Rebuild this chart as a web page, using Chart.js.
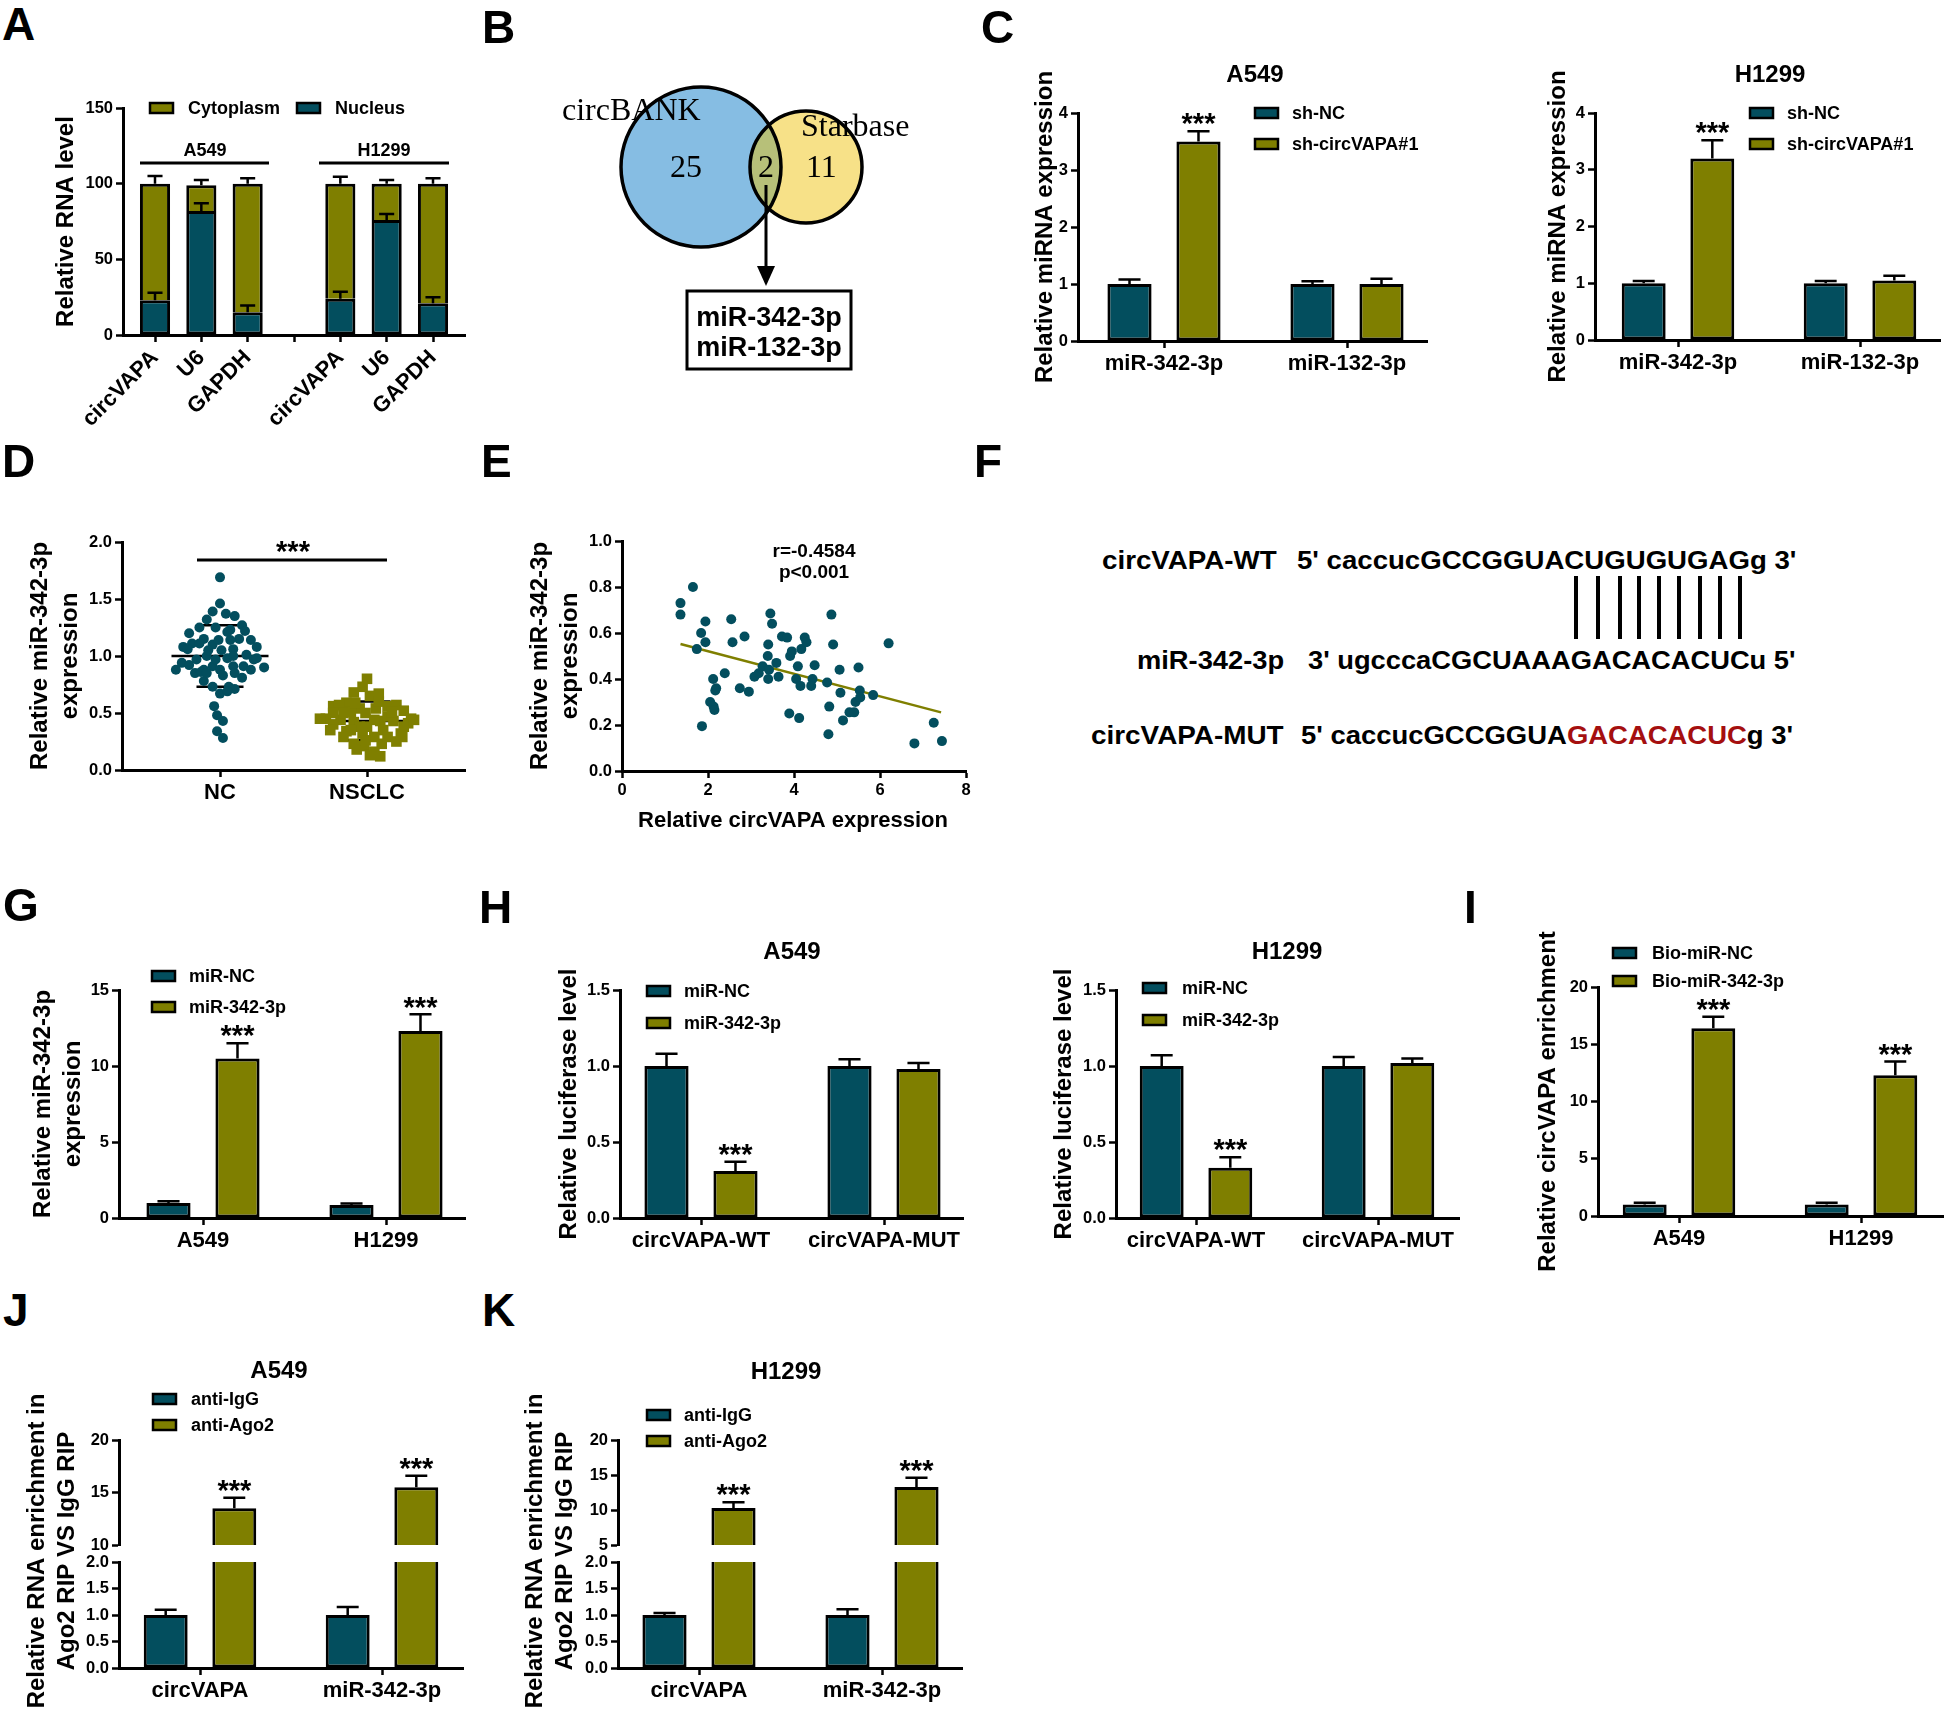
<!DOCTYPE html>
<html>
<head>
<meta charset="utf-8">
<script src="https://cdn.jsdelivr.net/npm/chart.js@4.4.0/dist/chart.umd.min.js"></script>
<style>
  body { margin: 0; background: #fff; }
  #fig { position: relative; width: 1944px; height: 1713px; overflow: hidden; font-family: "Liberation Sans", Arial, sans-serif; }
  canvas { position: absolute; }
  .lab { position: absolute; font-weight: bold; font-size: 46px; line-height: 46px; }
  .seq { position: absolute; font-weight: bold; font-size: 26px; line-height: 26px; white-space: pre; transform-origin: 0 0; }
  .pair { position: absolute; width: 4px; background: #000; }
</style>
</head>
<body>
<div id="fig"></div>
<script>
// ---- A: subcellular fractionation ----
const aLabels = ['circVAPA', 'U6', 'GAPDH', '', 'circVAPA', 'U6', 'GAPDH'];
const aNucleus = [23, 82, 15, null, 24, 76, 21];
const aNucleusErr = [28, 87, 19.5, null, 28.5, 80, 25];
const aCytoplasm = [77, 17, 85, null, 76, 24, 79];
const aCytoplasmErr = [105, 102.5, 103.5, null, 104.5, 102.5, 103.5];

// ---- B: venn ----
const vennSets = ['circBANK', 'Starbase'];
const vennCounts = [25, 2, 11];
const vennShared = ['miR-342-3p', 'miR-132-3p'];

// ---- C: miRNA expression after knockdown ----
const cLabels = ['miR-342-3p', 'miR-132-3p'];
const cA549NC = [1.0, 1.0], cA549NCErr = [1.08, 1.05];
const cA549Sh = [3.5, 1.0], cA549ShErr = [3.68, 1.09];
const cH1299NC = [1.0, 1.0], cH1299NCErr = [1.04, 1.04];
const cH1299Sh = [3.2, 1.05], cH1299ShErr = [3.52, 1.13];

// ---- D: NC vs NSCLC ----
const dLabels = ['NC', 'NSCLC'];
const ncX = [0, 0, -0.05, 0.04, 0.10, -0.09, -0.14, -0.03, 0.07, 0.15, 0.17, -0.21, 0.05, -0.11, 0.13, 0.21, -0.19, -0.05, -0.25, 0.25, 0.09, -0.22, 0.01, -0.09, 0.05, 0.18, 0.23, -0.26, -0.21, -0.05, 0.09, 0.16, 0.30, -0.30, -0.11, 0, -0.17, -0.13, 0.02, 0.15, -0.11, -0.05, 0.06, 0.10, 0, 0.05, -0.04, -0.02, 0.02, -0.02, 0.02, -0.08, -0.16, -0.01, 0.09, 0.25, -0.09, 0.10, 0.07, -0.14, -0.03, 0.21];
const ncY = [1.69, 1.46, 1.39, 1.37, 1.35, 1.32, 1.25, 1.25, 1.23, 1.27, 1.22, 1.20, 1.21, 1.15, 1.15, 1.14, 1.11, 1.10, 1.08, 1.08, 1.06, 1.06, 1.05, 1.00, 0.98, 1.01, 0.97, 0.94, 0.92, 0.91, 0.91, 0.91, 0.90, 0.88, 0.88, 0.88, 0.85, 0.86, 0.83, 0.81, 0.78, 0.73, 0.73, 0.71, 0.67, 0.69, 0.56, 0.48, 0.43, 0.34, 0.28, 1.05, 0.97, 1.14, 1.00, 0.98, 0.85, 0.85, 1.14, 1.11, 0.97, 0.88];
const nsX = [1.00, 0.97, 0.91, 1.08, 1.02, 0.86, 0.77, 0.81, 1.20, 1.14, 1.06, 0.95, 1.25, 0.89, 0.99, 0.72, 1.30, 0.82, 1.09, 1.18, 0.91, 0.77, 1.25, 1.00, 0.75, 1.11, 0.86, 0.97, 1.24, 0.84, 1.05, 1.20, 0.91, 1.10, 0.98, 0.93, 1.05, 1.02, 1.09, 1.23, 1.14, 0.95, 0.84, 1.17, 1.05, 0.89, 1.14, 0.77, 1.28, 0.92, 1.08, 0.68, 1.32, 0.99];
const nsY = [0.80, 0.73, 0.68, 0.67, 0.65, 0.59, 0.56, 0.57, 0.57, 0.56, 0.54, 0.54, 0.52, 0.51, 0.50, 0.45, 0.45, 0.44, 0.43, 0.43, 0.42, 0.40, 0.38, 0.38, 0.35, 0.35, 0.34, 0.32, 0.29, 0.29, 0.29, 0.25, 0.23, 0.23, 0.21, 0.18, 0.16, 0.13, 0.12, 0.32, 0.47, 0.38, 0.50, 0.51, 0.44, 0.35, 0.29, 0.50, 0.41, 0.59, 0.60, 0.45, 0.44, 0.26];
const dMean = [1.0, 0.43], dSdHi = [1.27, 0.60], dSdLo = [0.73, 0.26];

// ---- E: correlation ----
const eX = [1.36, 1.36, 1.65, 1.84, 1.94, 1.94, 1.74, 2.54, 2.57, 2.85, 2.12, 2.19, 2.17, 2.39, 2.05, 2.13, 2.15, 1.86, 2.74, 2.95, 3.08, 3.18, 3.27, 3.45, 3.49, 3.40, 3.39, 3.42, 3.40, 3.59, 3.64, 3.72, 3.84, 3.91, 3.95, 4.09, 4.05, 4.15, 4.17, 4.25, 4.29, 4.48, 4.43, 4.40, 4.77, 4.87, 4.91, 5.06, 5.08, 4.82, 4.80, 5.14, 5.29, 5.40, 5.43, 5.50, 5.53, 5.54, 5.84, 6.20, 3.89, 4.12, 6.80, 7.25, 7.44];
const eY = [0.73, 0.68, 0.80, 0.60, 0.65, 0.56, 0.53, 0.66, 0.56, 0.585, 0.40, 0.36, 0.35, 0.425, 0.30, 0.28, 0.265, 0.195, 0.36, 0.345, 0.41, 0.425, 0.455, 0.685, 0.64, 0.55, 0.50, 0.44, 0.40, 0.47, 0.41, 0.585, 0.58, 0.50, 0.52, 0.455, 0.40, 0.37, 0.53, 0.58, 0.56, 0.46, 0.40, 0.37, 0.385, 0.68, 0.55, 0.44, 0.34, 0.28, 0.16, 0.22, 0.255, 0.255, 0.30, 0.45, 0.35, 0.32, 0.33, 0.555, 0.25, 0.23, 0.12, 0.21, 0.13];
const eFitX = [1.36, 7.42], eFitY = [0.552, 0.255];
const eStats = ['r=-0.4584', 'p<0.001'];

// ---- F: binding sites ----
const fRows = [
  ['circVAPA-WT', "5' caccucGCCGGUACUGUGUGAGg 3'"],
  ['miR-342-3p', "3' ugcccaCGCUAAAGACACACUCu 5'"],
  ['circVAPA-MUT', "5' caccucGCCGGUA", 'GACACACUC', "g 3'"]
];

// ---- G ----
const gLabels = ['A549', 'H1299'];
const gNC = [0.98, 0.85], gNCErr = [1.1, 0.95];
const gMiR = [10.5, 12.3], gMiRErr = [11.5, 13.4];

// ---- H: luciferase ----
const hLabels = ['circVAPA-WT', 'circVAPA-MUT'];
const hA549NC = [1.0, 1.0], hA549NCErr = [1.08, 1.045];
const hA549MiR = [0.31, 0.98], hA549MiRErr = [0.37, 1.02];
const hH1299NC = [1.0, 1.0], hH1299NCErr = [1.07, 1.06];
const hH1299MiR = [0.33, 1.02], hH1299MiRErr = [0.40, 1.05];

// ---- I: pull-down ----
const iLabels = ['A549', 'H1299'];
const iNC = [1.0, 1.0], iNCErr = [1.15, 1.15];
const iBio = [16.4, 12.3], iBioErr = [17.4, 13.5];

// ---- J, K: RIP ----
const ripLabels = ['circVAPA', 'miR-342-3p'];
const jIgG = [1.0, 1.0], jIgGErr = [1.1, 1.15];
const jAgo = [13.5, 15.5], jAgoErr = [14.5, 16.6];
const kIgG = [1.0, 1.0], kIgGErr = [1.04, 1.11];
const kAgo = [10.3, 13.3], kAgoErr = [11.1, 14.6];

const TEAL = '#034e5e', OLIVE = '#7f7f00';
const FF = '"Liberation Sans", Arial, sans-serif';
Chart.defaults.font.family = FF;
Chart.defaults.color = '#000';

const fig = document.getElementById('fig');

function addCanvas(b) {
  const c = document.createElement('canvas');
  c.width = b.w; c.height = b.h;
  c.style.left = b.x + 'px'; c.style.top = b.y + 'px';
  fig.appendChild(c);
  return c;
}

function drawErrors(chart, errs) {
  const ctx = chart.ctx, ys = chart.scales.y, area = chart.chartArea;
  ctx.save();
  ctx.strokeStyle = '#000'; ctx.lineWidth = 2.5;
  errs.forEach((arr, di) => {
    if (!arr) return;
    const meta = chart.getDatasetMeta(di);
    meta.data.forEach((el, i) => {
      const e = arr[i];
      if (e == null || e > ys.max || e < ys.min) return;
      if (!(el.y >= area.top - 1 && el.y <= area.bottom)) return;
      const py = ys.getPixelForValue(e);
      const cap = el.width * 0.25;
      ctx.beginPath();
      ctx.moveTo(el.x, el.y); ctx.lineTo(el.x, py);
      ctx.moveTo(el.x - cap, py); ctx.lineTo(el.x + cap, py);
      ctx.stroke();
    });
  });
  ctx.restore();
}

// asterisks sit a few px above the error cap
function drawStars(chart, o) {
  const ctx = chart.ctx, ys = chart.scales.y;
  ctx.save();
  ctx.font = 'bold 29px ' + FF; ctx.textAlign = 'center'; ctx.textBaseline = 'alphabetic'; ctx.fillStyle = '#000';
  o.stars.forEach(s => {
    const el = chart.getDatasetMeta(s.ds).data[s.i];
    const py = ys.getPixelForValue(o.errs[s.ds][s.i]);
    ctx.fillText('***', el.x, py - 10 + 0.42 * 29);
  });
  ctx.restore();
}

function drawLegend(ctx, items) {
  ctx.font = 'bold 18px ' + FF; ctx.textBaseline = 'middle'; ctx.textAlign = 'left';
  items.forEach(it => {
    ctx.fillStyle = it.color; ctx.fillRect(it.bx, it.y - 5, 23, 10);
    ctx.lineWidth = 2.5; ctx.strokeStyle = '#000'; ctx.strokeRect(it.bx, it.y - 5, 23, 10);
    ctx.fillStyle = '#000'; ctx.fillText(it.text, it.tx, it.y + 1);
  });
}

function drawYTitle(ctx, t, cy) {
  ctx.font = 'bold 24px ' + FF; ctx.textAlign = 'center'; ctx.textBaseline = 'middle'; ctx.fillStyle = '#000';
  t.lines.forEach((line, i) => {
    ctx.save(); ctx.translate(t.xs[i], cy); ctx.rotate(-Math.PI / 2);
    ctx.fillText(line, 0, 0); ctx.restore();
  });
}

function decor(o) {
  return {
    id: 'decor',
    beforeDatasetsDraw(chart) {
      if (o.under) { chart.ctx.save(); o.under(chart.ctx, chart); chart.ctx.restore(); }
    },
    afterDatasetsDraw(chart) {
      const ctx = chart.ctx;
      if (o.errs) drawErrors(chart, o.errs);
      if (o.stars) drawStars(chart, o);
      ctx.save();
      ctx.translate(-o.box.x, -o.box.y);
      ctx.fillStyle = '#000'; ctx.strokeStyle = '#000';
      if (o.legend) drawLegend(ctx, o.legend);
      if (o.title) {
        ctx.font = 'bold 24px ' + FF; ctx.textAlign = 'center'; ctx.textBaseline = 'middle'; ctx.fillStyle = '#000';
        ctx.fillText(o.title.text, o.title.x, o.title.y);
      }
      if (o.yTitle) drawYTitle(ctx, o.yTitle, o.yTitle.cy || (o.plot.t + o.plot.b) / 2);
      if (o.extra) o.extra(ctx, chart);
      ctx.restore();
    }
  };
}

function xAxisOpt(a) {
  return {
    type: 'linear', min: a.min, max: a.max, offset: false, stacked: !!a.stacked, display: a.show !== false,
    afterBuildTicks: s => { s.ticks = a.ticks.map(v => ({ value: v })); },
    afterFit: s => { s.height = a.h; },
    ticks: {
      autoSkip: false, maxRotation: a.rot || 0, minRotation: a.rot || 0, padding: 3, color: '#000',
      font: { size: a.fs, weight: 'bold' },
      callback: (v, i) => a.labels ? a.labels[i] : String(v)
    },
    grid: { drawOnChartArea: false, offset: false, drawTicks: true, tickLength: 7, tickColor: '#000', tickWidth: 2.5 },
    border: { display: true, color: '#000', width: 3 }
  };
}

function yAxisOpt(a) {
  return {
    type: 'linear', min: a.min, max: a.max, stacked: !!a.stacked,
    afterFit: s => { s.width = a.w; },
    ticks: { stepSize: a.step, font: { size: 16.5, weight: 'bold' }, color: '#000', padding: 3,
      callback: a.fmt || (v => String(v)) },
    grid: { drawOnChartArea: false, drawTicks: true, tickLength: 7, tickColor: '#000', tickWidth: 2.5 },
    border: { display: true, color: '#000', width: 3 }
  };
}

function legendItems(o) {
  return o.series.map((s, i) => ({ bx: o.leg.bx, tx: o.leg.tx, y: o.leg.ys[i], text: s.label, color: s.color }));
}

function barPanel(o) {
  const b = o.box, p = o.plot;
  const c = addCanvas(b);
  const n = o.labels.length;
  const sp = (o.tx[1] - o.tx[0]) / (n - 1);
  const showX = o.showX !== false;
  const datasets = o.series.map(s => ({
    label: s.label,
    data: s.values.map((v, i) => ({ x: i, y: v })),
    backgroundColor: s.color, borderColor: '#000', borderWidth: 3,
    borderSkipped: s.skip || false,
    categoryPercentage: o.stacked ? 1 : 0.754,
    barPercentage: o.stacked ? 0.65 : 0.64,
    clip: o.clip ? 0 : false
  }));
  if (o.leg && !o.legend) o.legend = legendItems(o);
  return new Chart(c, {
    type: 'bar',
    data: { datasets },
    options: {
      responsive: false, animation: false, events: [],
      layout: { padding: { left: 0, top: p.t - b.y, right: b.x + b.w - p.r, bottom: showX ? 0 : b.y + b.h - p.b } },
      plugins: { legend: { display: false }, tooltip: { enabled: false } },
      scales: {
        x: xAxisOpt({
          min: (p.l - o.tx[0]) / sp, max: (p.r - o.tx[0]) / sp, ticks: o.labels.map((_, i) => i),
          labels: o.labels, fs: 22, h: showX ? b.y + b.h - p.b : 0, rot: o.rot, show: showX, stacked: o.stacked
        }),
        y: yAxisOpt({ min: o.ymin, max: o.ymax, step: o.ystep, fmt: o.yfmt, w: p.l - b.x, stacked: o.stacked })
      }
    },
    plugins: [decor(o)]
  });
}

const fix1 = v => v.toFixed(1);

// ---------- A ----------
barPanel({
  box: { x: 0, y: 50, w: 480, h: 390 }, plot: { l: 123, t: 108, r: 465, b: 335 }, tx: [155, 433],
  labels: aLabels, stacked: true, rot: 45, ymin: 0, ymax: 150, ystep: 50,
  series: [
    { label: 'Nucleus', values: aNucleus, color: TEAL },
    { label: 'Cytoplasm', values: aCytoplasm, color: OLIVE, skip: 'start' }
  ],
  errs: [aNucleusErr, aCytoplasmErr],
  legend: [
    { bx: 150, tx: 188, y: 108, text: 'Cytoplasm', color: OLIVE },
    { bx: 297, tx: 335, y: 108, text: 'Nucleus', color: TEAL }
  ],
  yTitle: { lines: ['Relative RNA level'], xs: [66] },
  extra(ctx) {
    ctx.lineWidth = 3;
    ctx.beginPath(); ctx.moveTo(140, 163); ctx.lineTo(269, 163); ctx.moveTo(319, 163); ctx.lineTo(449, 163); ctx.stroke();
    ctx.font = 'bold 18px ' + FF; ctx.textAlign = 'center'; ctx.textBaseline = 'middle';
    ctx.fillText('A549', 205, 151); ctx.fillText('H1299', 384, 151);
  }
});

// ---------- B (venn) ----------
(function () {
  const b = { x: 480, y: 40, w: 500, h: 400 };
  const ctx = addCanvas(b).getContext('2d');
  ctx.translate(-b.x, -b.y);
  const L = { x: 701, y: 167, r: 80 }, R = { x: 806, y: 167, r: 56 };
  const circ = c => { ctx.beginPath(); ctx.arc(c.x, c.y, c.r, 0, Math.PI * 2); };
  ctx.fillStyle = '#86bde3'; circ(L); ctx.fill();
  ctx.fillStyle = '#f7e188'; circ(R); ctx.fill();
  ctx.save(); circ(L); ctx.clip(); ctx.fillStyle = '#b7c079'; circ(R); ctx.fill(); ctx.restore();
  ctx.lineWidth = 3.5; ctx.strokeStyle = '#000';
  circ(L); ctx.stroke(); circ(R); ctx.stroke();
  ctx.fillStyle = '#000';
  ctx.font = '32px "Liberation Serif", "Times New Roman", serif'; ctx.textBaseline = 'alphabetic'; ctx.textAlign = 'left';
  ctx.fillText(vennSets[0], 562, 120);
  ctx.fillText(vennSets[1], 801, 136);
  ctx.fillText(String(vennCounts[0]), 670, 177);
  ctx.fillText(String(vennCounts[1]), 758, 177);
  ctx.fillText(String(vennCounts[2]), 806, 177);
  ctx.lineWidth = 3;
  ctx.beginPath(); ctx.moveTo(766, 185); ctx.lineTo(766, 268); ctx.stroke();
  ctx.beginPath(); ctx.moveTo(757, 266); ctx.lineTo(775, 266); ctx.lineTo(766, 286); ctx.closePath(); ctx.fill();
  ctx.strokeRect(687, 291, 164, 78);
  ctx.font = 'bold 27px ' + FF; ctx.textAlign = 'center';
  ctx.fillText(vennShared[0], 769, 326);
  ctx.fillText(vennShared[1], 769, 356);
})();

// ---------- C ----------
barPanel({
  box: { x: 990, y: 40, w: 450, h: 380 }, plot: { l: 1078, t: 113, r: 1427, b: 341 }, tx: [1164, 1347],
  labels: cLabels, ymin: 0, ymax: 4, ystep: 1,
  series: [
    { label: 'sh-NC', values: cA549NC, color: TEAL },
    { label: 'sh-circVAPA#1', values: cA549Sh, color: OLIVE }
  ],
  errs: [cA549NCErr, cA549ShErr], stars: [{ ds: 1, i: 0 }],
  leg: { bx: 1255, tx: 1292, ys: [113, 144] },
  title: { text: 'A549', x: 1255, y: 75 },
  yTitle: { lines: ['Relative miRNA expression'], xs: [1045] }
});
barPanel({
  box: { x: 1500, y: 40, w: 444, h: 380 }, plot: { l: 1595, t: 113, r: 1940, b: 340 }, tx: [1678, 1860],
  labels: cLabels, ymin: 0, ymax: 4, ystep: 1,
  series: [
    { label: 'sh-NC', values: cH1299NC, color: TEAL },
    { label: 'sh-circVAPA#1', values: cH1299Sh, color: OLIVE }
  ],
  errs: [cH1299NCErr, cH1299ShErr], stars: [{ ds: 1, i: 0 }],
  leg: { bx: 1750, tx: 1787, ys: [113, 144] },
  title: { text: 'H1299', x: 1770, y: 75 },
  yTitle: { lines: ['Relative miRNA expression'], xs: [1558] }
});

// ---------- D ----------
(function () {
  const o = {
    box: { x: 0, y: 490, w: 480, h: 360 }, plot: { l: 122, t: 542, r: 465, b: 770 },
    yTitle: { lines: ['Relative miR-342-3p', 'expression'], xs: [40, 70] },
    under(ctx, chart) {
      const xs = chart.scales.x, ys = chart.scales.y;
      ctx.strokeStyle = '#000'; ctx.lineWidth = 2.5;
      const hl = (cx, hw, v) => {
        ctx.beginPath();
        ctx.moveTo(xs.getPixelForValue(cx - hw), ys.getPixelForValue(v));
        ctx.lineTo(xs.getPixelForValue(cx + hw), ys.getPixelForValue(v));
        ctx.stroke();
      };
      [0, 1].forEach(g => { hl(g, 0.33, dMean[g]); hl(g, 0.16, dSdHi[g]); hl(g, 0.16, dSdLo[g]); });
    },
    extra(ctx) {
      ctx.lineWidth = 3;
      ctx.beginPath(); ctx.moveTo(197, 560); ctx.lineTo(387, 560); ctx.stroke();
      ctx.font = 'bold 29px ' + FF; ctx.textAlign = 'center'; ctx.textBaseline = 'alphabetic';
      ctx.fillText('***', 293, 561);
    }
  };
  const b = o.box, p = o.plot;
  new Chart(addCanvas(b), {
    type: 'scatter',
    data: {
      datasets: [
        { label: 'NC', data: ncX.map((x, i) => ({ x, y: ncY[i] })), pointStyle: 'circle', pointRadius: 5,
          backgroundColor: TEAL, pointBackgroundColor: TEAL, borderWidth: 0, pointBorderWidth: 0 },
        { label: 'NSCLC', data: nsX.map((x, i) => ({ x, y: nsY[i] })), pointStyle: 'rect', pointRadius: 7.5,
          backgroundColor: OLIVE, pointBackgroundColor: OLIVE, borderWidth: 0, pointBorderWidth: 0 }
      ]
    },
    options: {
      responsive: false, animation: false, events: [],
      layout: { padding: { left: 0, top: p.t - b.y, right: b.x + b.w - p.r, bottom: 0 } },
      plugins: { legend: { display: false }, tooltip: { enabled: false } },
      scales: {
        x: xAxisOpt({ min: (p.l - 220) / 147, max: (p.r - 220) / 147, ticks: [0, 1], labels: dLabels, fs: 22, h: b.y + b.h - p.b }),
        y: yAxisOpt({ min: 0, max: 2, step: 0.5, fmt: fix1, w: p.l - b.x })
      }
    },
    plugins: [decor(o)]
  });
})();

// ---------- E ----------
(function () {
  const o = {
    box: { x: 490, y: 490, w: 490, h: 360 }, plot: { l: 622, t: 541, r: 966, b: 771 },
    yTitle: { lines: ['Relative miR-342-3p', 'expression'], xs: [540, 570] },
    extra(ctx) {
      ctx.font = 'bold 19px ' + FF; ctx.textAlign = 'center'; ctx.textBaseline = 'middle';
      ctx.fillText(eStats[0], 814, 552); ctx.fillText(eStats[1], 814, 573);
      ctx.font = 'bold 22px ' + FF;
      ctx.fillText('Relative circVAPA expression', 793, 821);
    }
  };
  const b = o.box, p = o.plot;
  new Chart(addCanvas(b), {
    type: 'scatter',
    data: {
      datasets: [
        { label: 'samples', data: eX.map((x, i) => ({ x, y: eY[i] })), pointStyle: 'circle', pointRadius: 5,
          backgroundColor: TEAL, pointBackgroundColor: TEAL, borderWidth: 0, pointBorderWidth: 0 },
        { label: 'fit', data: eFitX.map((x, i) => ({ x, y: eFitY[i] })), showLine: true, pointRadius: 0,
          borderColor: OLIVE, borderWidth: 2.5 }
      ]
    },
    options: {
      responsive: false, animation: false, events: [],
      layout: { padding: { left: 0, top: p.t - b.y, right: b.x + b.w - p.r, bottom: 0 } },
      plugins: { legend: { display: false }, tooltip: { enabled: false } },
      scales: {
        x: xAxisOpt({ min: 0, max: 8, ticks: [0, 2, 4, 6, 8], fs: 16.5, h: b.y + b.h - p.b }),
        y: yAxisOpt({ min: 0, max: 1, step: 0.2, fmt: fix1, w: p.l - b.x })
      }
    },
    plugins: [decor(o)]
  });
})();

// ---------- G ----------
barPanel({
  box: { x: 0, y: 930, w: 480, h: 340 }, plot: { l: 119, t: 990, r: 465, b: 1218 }, tx: [203, 386],
  labels: gLabels, ymin: 0, ymax: 15, ystep: 5,
  series: [
    { label: 'miR-NC', values: gNC, color: TEAL },
    { label: 'miR-342-3p', values: gMiR, color: OLIVE }
  ],
  errs: [gNCErr, gMiRErr], stars: [{ ds: 1, i: 0 }, { ds: 1, i: 1 }],
  leg: { bx: 152, tx: 189, ys: [976, 1007] },
  yTitle: { lines: ['Relative miR-342-3p', 'expression'], xs: [43, 73] }
});

// ---------- H ----------
barPanel({
  box: { x: 500, y: 930, w: 475, h: 340 }, plot: { l: 620, t: 990, r: 963, b: 1218 }, tx: [701, 884],
  labels: hLabels, ymin: 0, ymax: 1.5, ystep: 0.5, yfmt: fix1,
  series: [
    { label: 'miR-NC', values: hA549NC, color: TEAL },
    { label: 'miR-342-3p', values: hA549MiR, color: OLIVE }
  ],
  errs: [hA549NCErr, hA549MiRErr], stars: [{ ds: 1, i: 0 }],
  leg: { bx: 647, tx: 684, ys: [991, 1023] },
  title: { text: 'A549', x: 792, y: 952 },
  yTitle: { lines: ['Relative luciferase level'], xs: [569] }
});
barPanel({
  box: { x: 1000, y: 930, w: 470, h: 340 }, plot: { l: 1116, t: 990, r: 1459, b: 1218 }, tx: [1196, 1378],
  labels: hLabels, ymin: 0, ymax: 1.5, ystep: 0.5, yfmt: fix1,
  series: [
    { label: 'miR-NC', values: hH1299NC, color: TEAL },
    { label: 'miR-342-3p', values: hH1299MiR, color: OLIVE }
  ],
  errs: [hH1299NCErr, hH1299MiRErr], stars: [{ ds: 1, i: 0 }],
  leg: { bx: 1143, tx: 1182, ys: [988, 1020] },
  title: { text: 'H1299', x: 1287, y: 952 },
  yTitle: { lines: ['Relative luciferase level'], xs: [1064] }
});

// ---------- I ----------
barPanel({
  box: { x: 1490, y: 900, w: 454, h: 390 }, plot: { l: 1598, t: 987, r: 1943, b: 1216 }, tx: [1679, 1861],
  labels: iLabels, ymin: 0, ymax: 20, ystep: 5,
  series: [
    { label: 'Bio-miR-NC', values: iNC, color: TEAL },
    { label: 'Bio-miR-342-3p', values: iBio, color: OLIVE }
  ],
  errs: [iNCErr, iBioErr], stars: [{ ds: 1, i: 0 }, { ds: 1, i: 1 }],
  leg: { bx: 1613, tx: 1652, ys: [953, 981] },
  yTitle: { lines: ['Relative circVAPA enrichment'], xs: [1548] }
});

// ---------- J, K (broken y axis: upper + lower chart) ----------
function ripPanel(r) {
  const series = [
    { label: 'anti-IgG', values: r.igg, color: TEAL },
    { label: 'anti-Ago2', values: r.ago, color: OLIVE }
  ];
  const errs = [r.iggErr, r.agoErr];
  barPanel({
    box: r.box, plot: { l: r.l, t: 1440, r: r.r, b: 1545 }, tx: r.tx, labels: ripLabels, showX: false, clip: true,
    ymin: r.upMin, ymax: 20, ystep: 5, series, errs, stars: [{ ds: 1, i: 0 }, { ds: 1, i: 1 }]
  });
  barPanel({
    box: r.box, plot: { l: r.l, t: 1562, r: r.r, b: 1668 }, tx: r.tx, labels: ripLabels, clip: true,
    ymin: 0, ymax: 2, ystep: 0.5, yfmt: fix1, series, errs,
    leg: r.leg, title: r.title,
    yTitle: { lines: ['Relative RNA enrichment in', 'Ago2 RIP VS IgG RIP'], xs: r.yx, cy: 1551 }
  });
}
ripPanel({
  box: { x: 0, y: 1340, w: 480, h: 373 }, l: 119, r: 463, tx: [200, 382], upMin: 10,
  igg: jIgG, iggErr: jIgGErr, ago: jAgo, agoErr: jAgoErr,
  leg: { bx: 153, tx: 191, ys: [1399, 1425] }, title: { text: 'A549', x: 279, y: 1371 }, yx: [37, 67]
});
ripPanel({
  box: { x: 490, y: 1340, w: 485, h: 373 }, l: 618, r: 962, tx: [699, 882], upMin: 5,
  igg: kIgG, iggErr: kIgGErr, ago: kAgo, agoErr: kAgoErr,
  leg: { bx: 647, tx: 684, ys: [1415, 1441] }, title: { text: 'H1299', x: 786, y: 1372 }, yx: [535, 565]
});

// ---------- F (sequence alignment, as text) ----------
function fseg(html, l, r, bl) {
  const d = document.createElement('div');
  d.className = 'seq'; d.innerHTML = html;
  d.style.left = l + 'px'; d.style.top = (bl - 22) + 'px';
  fig.appendChild(d);
  d.style.transform = 'scaleX(' + ((r - l) / d.offsetWidth) + ')';
}
fseg(fRows[0][0], 1102, 1277, 569);
fseg(fRows[0][1], 1297, 1796, 569);
fseg(fRows[1][0], 1137, 1284, 669);
fseg(fRows[1][1], 1308, 1796, 669);
fseg(fRows[2][0], 1091, 1284, 744);
fseg(fRows[2][1] + '<span style="color:#a50f0f">' + fRows[2][2] + '</span>' + fRows[2][3], 1301, 1793, 744);
[1576, 1598, 1620, 1639, 1659, 1679, 1700, 1720, 1740].forEach(x => {
  const d = document.createElement('div');
  d.className = 'pair'; d.style.left = (x - 2) + 'px'; d.style.top = '576px'; d.style.height = '63px';
  fig.appendChild(d);
});

// ---------- panel letters ----------
[['A', 2, 40], ['B', 482, 43], ['C', 981, 43], ['D', 2, 477], ['E', 481, 477], ['F', 974, 477],
 ['G', 3, 921], ['H', 479, 923], ['I', 1464, 923], ['J', 3, 1326], ['K', 482, 1326]].forEach(([t, x, bl]) => {
  const d = document.createElement('div');
  d.className = 'lab'; d.textContent = t;
  d.style.left = x + 'px'; d.style.top = (bl - 38.9) + 'px';
  fig.appendChild(d);
});
</script>
</body>
</html>
